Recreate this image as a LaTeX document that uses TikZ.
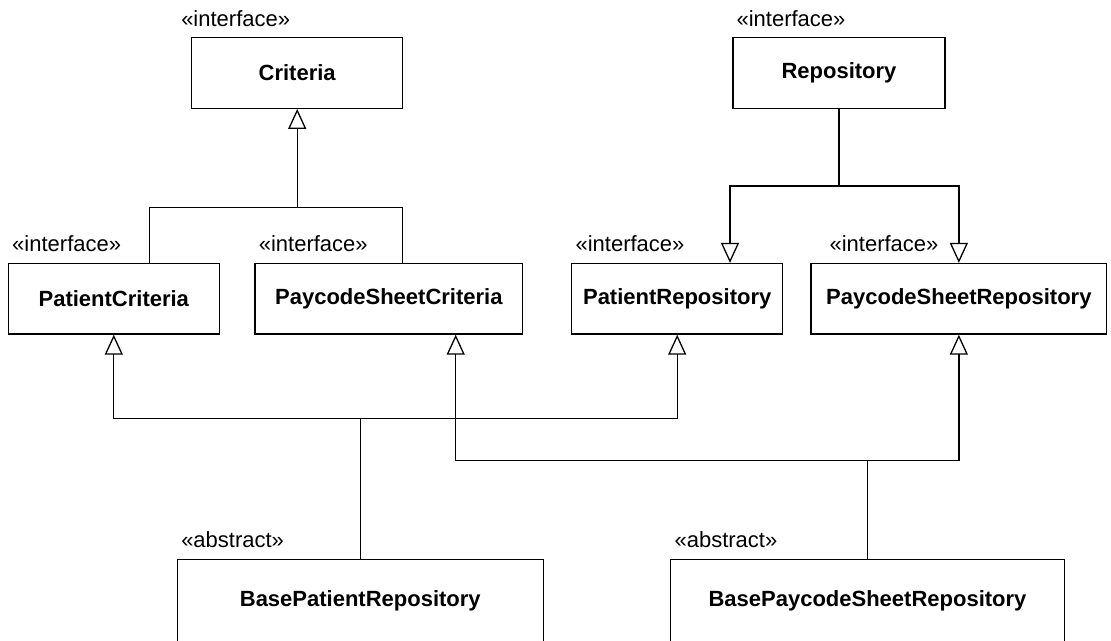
\documentclass[tikz,border=0pt]{standalone}
\usepackage{fontspec}
\setmainfont{Liberation Sans}
\usetikzlibrary{arrows.meta,calc}
\begin{document}
\begin{tikzpicture}[x=1pt,y=-1pt,
  cls/.style={draw, line width=1.3pt, font=\fontsize{22}{26}\selectfont\bfseries, inner sep=0pt, minimum height=70.5pt},
  stereo/.style={anchor=base west, inner sep=0pt, font=\fontsize{22}{26}\selectfont},
  conn/.style={line width=1.3pt},
  inh/.style={conn, -{Triangle[open,length=20pt,width=18pt]}},
]
\useasboundingbox (0,0) rectangle (1111,640);

% classes
\node[cls, minimum width=211pt] (crit) at (297.2,73) {Criteria};
\node[cls, minimum width=212pt] (rep) at (839,73) {Repository};
\node[cls, minimum width=211pt] (pc) at (113.8,298.8) {PatientCriteria};
\node[cls, minimum width=267.7pt] (psc) at (388.85,298.8) {PaycodeSheetCriteria};
\node[cls, minimum width=211pt] (pr) at (677.2,298.8) {PatientRepository};
\node[cls, minimum width=295.7pt] (psr) at (958.85,298.8) {PaycodeSheetRepository};
\node[cls, minimum width=366pt, minimum height=84pt] (bpr) at (360.3,601.3) {BasePatientRepository};
\node[cls, minimum width=393.6pt, minimum height=84pt] (bpsr) at (867.5,601.3) {BasePaycodeSheetRepository};

% stereotypes
\node[stereo] (s1) at ([shift={(-10,-11)}]crit.north west) {«interface»};
\node[stereo] (s2) at ([shift={(4,-11)}]rep.north west) {«interface»};
\node[stereo] (s3) at ([shift={(4.4,-11)}]pc.north west) {«interface»};
\node[stereo] (s4) at ([shift={(4.3,-11)}]psc.north west) {«interface»};
\node[stereo] (s5) at ([shift={(4.3,-11)}]pr.north west) {«interface»};
\node[stereo] (s6) at ([shift={(19,-11)}]psr.north west) {«interface»};
\node[stereo] (s7) at ([shift={(4.4,-11)}]bpr.north west) {«abstract»};
\node[stereo] (s8) at ([shift={(4.3,-11)}]bpsr.north west) {«abstract»};

% junctions
\coordinate (jc) at (crit.south |- 0,207.3);
\coordinate (jd) at (rep.south |- 0,186);
\coordinate (ja) at (bpr.north |- 0,418.3);
\coordinate (jb) at (bpsr.north |- 0,460.7);

% Criteria hierarchy
\draw[inh] (jc) -- (crit.south);
\draw[conn] ([xshift=35.5pt]pc.north) |- (jc);
\draw[conn] ([xshift=13.85pt]psc.north) |- (jc);

% Repository hierarchy
\draw[conn] (rep.south) -- (jd);
\draw[inh] (jd) -| ([xshift=52.8pt]pr.north);
\draw[inh] (jd) -| (psr.north);

% BasePatientRepository
\draw[conn] (bpr.north) -- (ja);
\draw[inh] (ja) -| (pc.south);
\draw[inh] (ja) -| (pr.south);

% BasePaycodeSheetRepository
\draw[conn] (bpsr.north) -- (jb);
\draw[inh] (jb) -| ([xshift=66.85pt]psc.south);
\draw[inh] (jb) -| (psr.south);
\end{tikzpicture}
\end{document}
